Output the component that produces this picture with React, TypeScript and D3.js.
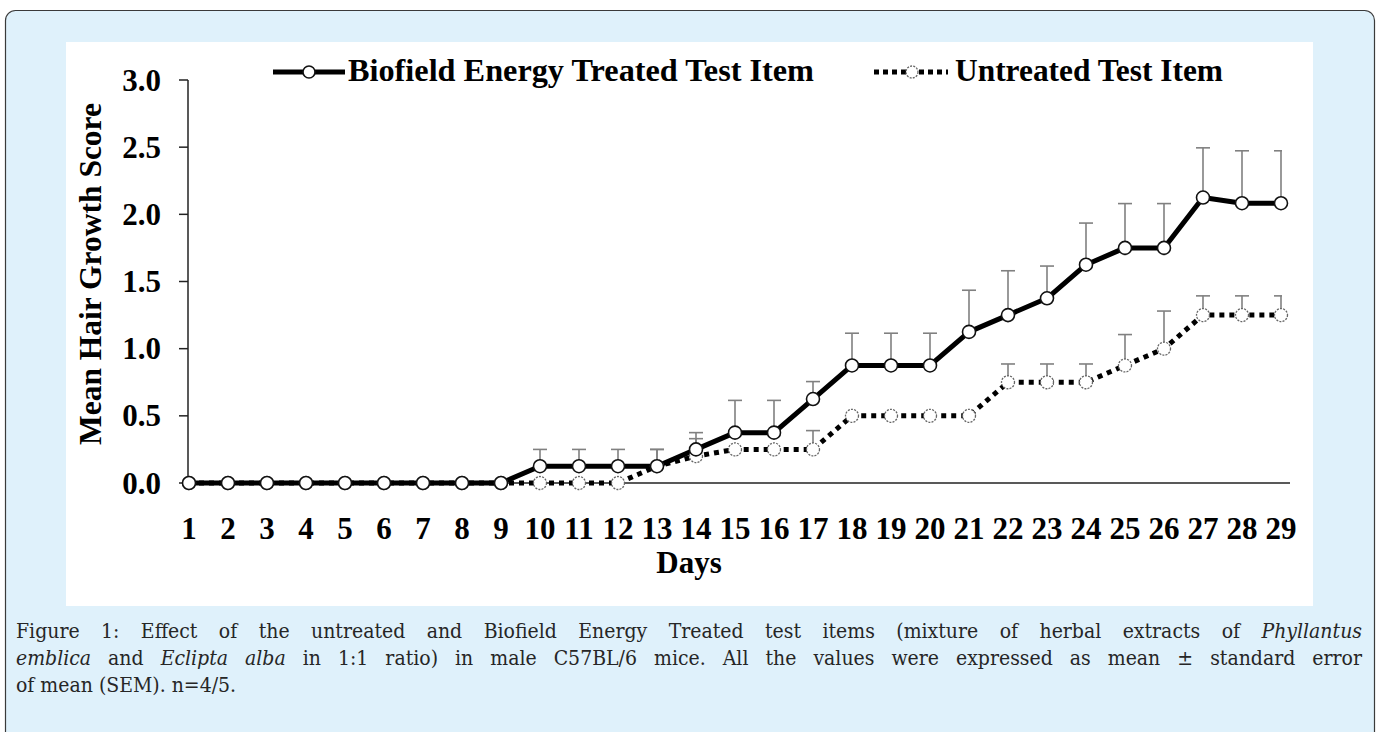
import React from "react";
import * as d3 from "d3";

// ---------- data ----------
const days = [1, 2, 3, 4, 5, 6, 7, 8, 9, 10, 11, 12, 13, 14, 15, 16, 17, 18, 19, 20, 21, 22, 23, 24, 25, 26, 27, 28, 29];
const treatedMean = [0, 0, 0, 0, 0, 0, 0, 0, 0, 0.125, 0.125, 0.125, 0.125, 0.25, 0.375, 0.375, 0.625, 0.875, 0.875, 0.875, 1.125, 1.25, 1.375, 1.625, 1.75, 1.75, 2.125, 2.083, 2.083];
const treatedSem = [0, 0, 0, 0, 0, 0, 0, 0, 0, 0.125, 0.125, 0.125, 0.125, 0.125, 0.24, 0.24, 0.13, 0.24, 0.24, 0.24, 0.31, 0.33, 0.24, 0.31, 0.33, 0.33, 0.37, 0.39, 0.39];
const untreatedMean = [0, 0, 0, 0, 0, 0, 0, 0, 0, 0, 0, 0, 0.125, 0.2, 0.25, 0.25, 0.25, 0.5, 0.5, 0.5, 0.5, 0.75, 0.75, 0.75, 0.875, 1.0, 1.25, 1.25, 1.25];
const untreatedSem = [0, 0, 0, 0, 0, 0, 0, 0, 0, 0, 0, 0, 0.125, 0.13, 0, 0, 0.14, 0, 0, 0, 0, 0.136, 0.136, 0.136, 0.23, 0.28, 0.143, 0.143, 0.143];
const yTicks = [0, 0.5, 1, 1.5, 2, 2.5, 3];
const seriesNames = ["Biofield Energy Treated Test Item", "Untreated Test Item"];
const xTitle = "Days";
const yTitle = "Mean Hair Growth Score";
type Seg = { t: string; i?: boolean };
const captionLines: Seg[][] = [
  [{ t: "Figure 1: Effect of the untreated and Biofield Energy Treated test items (mixture of herbal extracts of" }, { t: "Phyllantus", i: true }],
  [{ t: "emblica", i: true }, { t: "and" }, { t: "Eclipta alba", i: true }, { t: "in 1:1 ratio) in male C57BL/6 mice. All the values were expressed as mean ± standard error" }],
  [{ t: "of mean (SEM). n=4/5." }],
];

// ---------- layout ----------
const W = 1379;
const H = 732;
const SERIF = '"Liberation Serif", "Times New Roman", serif';
const CAP_FAMILY = '"DejaVu Serif Condensed", "DejaVu Serif"';
const CAP_SIZE = 21;
const TICK_SIZE = 31;

const x = d3.scaleLinear().domain([1, 29]).range([189, 1281]);
const y = d3.scaleLinear().domain([0, 3]).range([483, 80]);

let measureCtx: CanvasRenderingContext2D | null = null;
function measure(text: string, italic: boolean, size: number) {
  if (!measureCtx) {
    const c = document.createElement("canvas");
    measureCtx = c.getContext("2d");
  }
  if (!measureCtx) return text.length * size * 0.5;
  measureCtx.font = `${italic ? "italic " : ""}${size}px ${CAP_FAMILY}`;
  return measureCtx.measureText(text).width;
}

function Caption() {
  const left = 16;
  const right = 1362;
  const baselines = [638, 665, 692];
  const out: React.ReactNode[] = [];
  captionLines.forEach((line, li) => {
    const words: { w: string; i: boolean }[] = [];
    line.forEach((s) => s.t.split(" ").forEach((w) => words.push({ w, i: !!s.i })));
    const widths = words.map((w) => measure(w.w, w.i, CAP_SIZE));
    const total = d3.sum(widths);
    const justify = li < captionLines.length - 1;
    const space = measure(" ", false, CAP_SIZE);
    const gap = justify ? Math.max(space * 0.6, (right - left - total) / (words.length - 1)) : space;
    let cx = left;
    words.forEach((w, wi) => {
      out.push(
        <text key={`${li}-${wi}`} x={cx} y={baselines[li]} fontFamily={CAP_FAMILY} fontSize={CAP_SIZE} fontStyle={w.i ? "italic" : "normal"} fill="#262626">
          {w.w}
        </text>
      );
      cx += widths[wi] + gap;
    });
  });
  return <g>{out}</g>;
}

function Series({ mean, dotted }: { mean: number[]; dotted: boolean }) {
  const pts = days.map((d, i) => [x(d), y(mean[i])] as [number, number]);
  const line = d3.line()(pts) || "";
  return <path d={line} fill="none" stroke="#000" strokeWidth={5} strokeDasharray={dotted ? "5 5" : undefined} strokeLinejoin="round" />;
}

function ErrorBars({ mean, sem }: { mean: number[]; sem: number[] }) {
  return (
    <g clipPath="url(#errClip)">
      {days.map((d, i) =>
        sem[i] > 0 ? (
          <g key={d}>
            <line x1={x(d)} x2={x(d)} y1={y(mean[i])} y2={y(mean[i] + sem[i])} stroke="#808080" strokeWidth={1.6} />
            <line x1={x(d) - 7} x2={x(d) + 7} y1={y(mean[i] + sem[i])} y2={y(mean[i] + sem[i])} stroke="#808080" strokeWidth={1.6} />
          </g>
        ) : null
      )}
    </g>
  );
}

function Markers({ mean, dotted }: { mean: number[]; dotted: boolean }) {
  return (
    <g>
      {days.map((d, i) => (
        <circle key={d} cx={x(d)} cy={y(mean[i])} r={6.5} fill="#fff" stroke={dotted ? "#666" : "#111"} strokeWidth={dotted ? 1.3 : 1.6} strokeDasharray={dotted ? "2 1.2" : undefined} />
      ))}
    </g>
  );
}

export default function App() {
  const x0 = 188;
  const xEnd = x(29) + 9;
  return (
    <svg width={W} height={H} viewBox={`0 0 ${W} ${H}`} style={{ position: "absolute", left: 0, top: 0, background: "#fff" }}>
      <defs>
        <clipPath id="errClip">
          <rect x={0} y={0} width={x(29) + 1} height={H} />
        </clipPath>
      </defs>
      <rect x={5.5} y={10.5} width={1369} height={735} rx={10} fill="#dff1fb" stroke="#3a3a3a" strokeWidth={1.2} />
      <rect x={66} y={42} width={1247} height={564} fill="#fff" />

      {/* legend */}
      <g>
        <line x1={273} x2={345} y1={72} y2={72} stroke="#000" strokeWidth={5} />
        <circle cx={309} cy={72} r={6} fill="#fff" stroke="#111" strokeWidth={1.6} />
        <text x={348} y={81} fontFamily={SERIF} fontWeight="bold" fontSize={31} textLength={466} lengthAdjust="spacingAndGlyphs">
          {seriesNames[0]}
        </text>
        <line x1={874} x2={948} y1={72} y2={72} stroke="#000" strokeWidth={5} strokeDasharray="5 4" />
        <circle cx={912} cy={72} r={6} fill="#fff" stroke="#666" strokeWidth={1.3} strokeDasharray="2 1.2" />
        <text x={955} y={81} fontFamily={SERIF} fontWeight="bold" fontSize={31} textLength={268} lengthAdjust="spacingAndGlyphs">
          {seriesNames[1]}
        </text>
      </g>

      {/* y axis */}
      <g>
        <line x1={x0} x2={x0} y1={y(3)} y2={y(0)} stroke="#222" strokeWidth={1.5} />
        {yTicks.map((t) => (
          <g key={t}>
            <line x1={x0 - 9} x2={x0} y1={y(t)} y2={y(t)} stroke="#222" strokeWidth={1.5} />
            <text x={161} y={y(t) + 10.5} textAnchor="end" fontFamily={SERIF} fontWeight="bold" fontSize={TICK_SIZE}>
              {d3.format(".1f")(t)}
            </text>
          </g>
        ))}
        <text transform={`translate(101,${274}) rotate(-90)`} textAnchor="middle" fontFamily={SERIF} fontWeight="bold" fontSize={31} textLength={342} lengthAdjust="spacingAndGlyphs">
          {yTitle}
        </text>
      </g>

      {/* x axis */}
      <g>
        <line x1={x0} x2={xEnd} y1={y(0)} y2={y(0)} stroke="#222" strokeWidth={1.5} />
        {days.map((d) => (
          <text key={d} x={x(d)} y={539} textAnchor="middle" fontFamily={SERIF} fontWeight="bold" fontSize={TICK_SIZE}>
            {d}
          </text>
        ))}
        <text x={689} y={573} textAnchor="middle" fontFamily={SERIF} fontWeight="bold" fontSize={31}>
          {xTitle}
        </text>
      </g>

      <ErrorBars mean={untreatedMean} sem={untreatedSem} />
      <ErrorBars mean={treatedMean} sem={treatedSem} />
      <Series mean={untreatedMean} dotted={true} />
      <Series mean={treatedMean} dotted={false} />
      <Markers mean={untreatedMean} dotted={true} />
      <Markers mean={treatedMean} dotted={false} />

      <Caption />
    </svg>
  );
}
